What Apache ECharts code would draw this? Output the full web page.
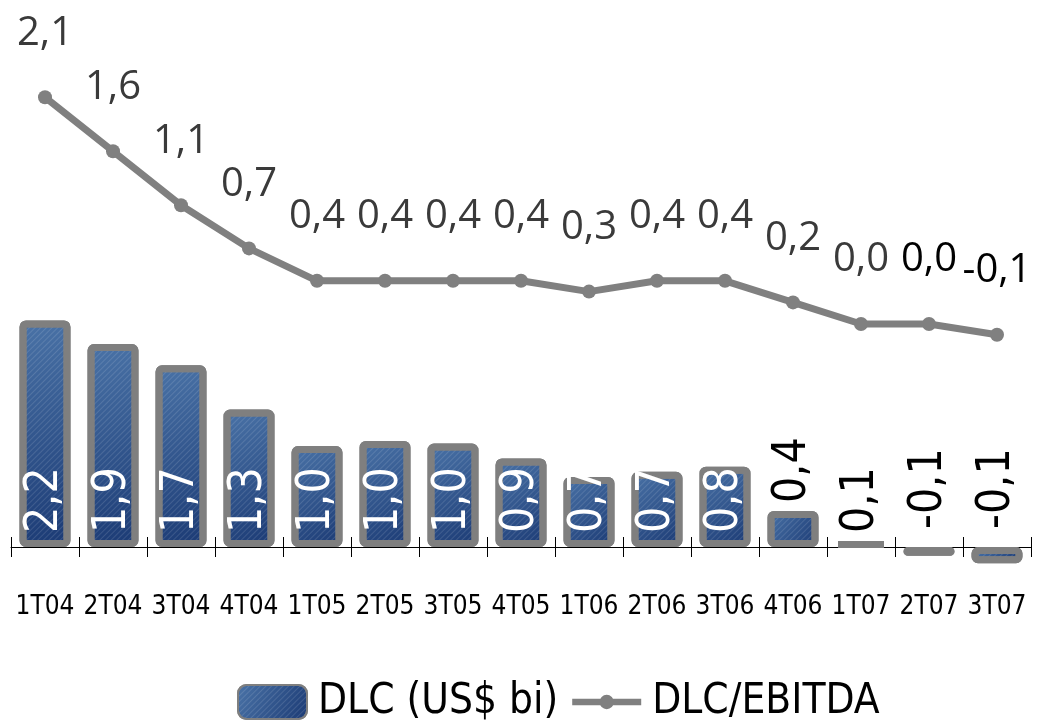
<!DOCTYPE html>
<html><head><meta charset="utf-8">
<script src="https://cdn.jsdelivr.net/npm/echarts@6/dist/echarts.min.js"></script>
<style>html,body{margin:0;padding:0;background:#fff}#c{width:1041px;height:728px}</style>
</head><body><div id="c"></div>
<script>
var categories = ['1T04','2T04','3T04','4T04','1T05','2T05','3T05','4T05','1T06','2T06','3T06','4T06','1T07','2T07','3T07'];
var dlcValues = [2.2, 1.97, 1.765, 1.335, 0.98, 1.03, 1.005, 0.86, 0.68, 0.73, 0.78, 0.35, 0.05, -0.085, -0.157];
var dlcLabels = ['2,2','1,9','1,7','1,3','1,0','1,0','1,0','0,9','0,7','0,7','0,8','0,4','0,1','-0,1','-0,1'];
var ratioValues = [2.1, 1.6, 1.1, 0.7, 0.4, 0.4, 0.4, 0.4, 0.3, 0.4, 0.4, 0.2, 0.0, 0.0, -0.1];
var ratioLabels = ['2,1','1,6','1,1','0,7','0,4','0,4','0,4','0,4','0,3','0,4','0,4','0,2','0,0','0,0','-0,1'];

var NARROW = '"Liberation Sans Narrow","DejaVu Sans Condensed",sans-serif';
var barFill = new echarts.graphic.LinearGradient(0,0,1,1,[{offset:0,color:'#4a73a7'},{offset:1,color:'#1b3a74'}]);

var barData = dlcValues.map(function(v,i){
  var d = {value:v};
  if (i >= 11) {
    d.label = {position:'top', color:'#000', distance: v < 0 ? 18 : 8};
  }
  return d;
});
var lineData = ratioValues.map(function(v,i){
  var d = {value:v};
  if (i >= 13) d.label = {color:'#000'};
  return d;
});

var lineIcon = 'path://M0,4 L72,4 L72,11 L0,11 Z M28.5,7.5 A7.5,7.5 0 1 1 43.5,7.5 A7.5,7.5 0 1 1 28.5,7.5 Z';

var chart = echarts.init(document.getElementById('c'));
chart.setOption({
  animation:false,
  backgroundColor:'#fff',
  grid:[{left:11,right:10,top:20,bottom:181,containLabel:false},
        {left:11,right:10,top:20,bottom:181,containLabel:false}],
  legend:{
    left:232, top:676, itemWidth:69, itemHeight:34, itemGap:14,
    textStyle:{fontFamily:NARROW, fontSize:42, color:'#000', padding:[0,0,0,6]},
    data:[{name:'DLC (US$ bi)'},{name:'DLC/EBITDA', icon:lineIcon, itemStyle:{color:'#808080', borderWidth:0}}]
  },
  xAxis:[{
    type:'category', data:categories, boundaryGap:true, gridIndex:0, position:'bottom',
    axisLine:{onZero:false, lineStyle:{color:'#000',width:1}},
    axisTick:{show:true,length:10,lineStyle:{color:'#000'}},
    axisLabel:{interval:0, margin:47, fontFamily:NARROW, fontSize:26, color:'#000'}
  },{
    type:'category', data:categories, boundaryGap:true, gridIndex:1, position:'bottom',
    axisLine:{show:false, onZero:false},
    axisTick:{show:true,inside:true,length:10,lineStyle:{color:'#000'}},
    axisLabel:{show:false}
  }],
  yAxis:[{
    type:'value', gridIndex:0, min:0, max:5.117, show:false, splitLine:{show:false}
  },{
    type:'value', gridIndex:0, min:-2.0648, max:2.8148, show:false, splitLine:{show:false}
  },{
    type:'value', gridIndex:1, min:0, max:1, show:false, splitLine:{show:false}
  }],
  series:[{
    name:'DLC (US$ bi)', type:'bar', xAxisIndex:0, yAxisIndex:0, barWidth:51, clip:false,
    itemStyle:{color:barFill, borderColor:'#7f7f7f', borderWidth:7, borderRadius:3,
      decal:{symbol:'rect', symbolSize:1, dashArrayX:[1,0], dashArrayY:[1,3], rotation:-Math.PI/4, color:'rgba(255,255,255,0.12)'}},
    label:{show:true, position:'insideBottom', rotate:90, align:'left', verticalAlign:'middle', distance:14,
      fontFamily:NARROW, fontSize:46, color:'#fff',
      formatter:function(p){return dlcLabels[p.dataIndex];}},
    data:barData, z:2
  },{
    name:'DLC/EBITDA', type:'line', xAxisIndex:0, yAxisIndex:1, clip:false,
    symbol:'circle', symbolSize:14,
    lineStyle:{color:'#808080', width:7},
    itemStyle:{color:'#808080'},
    label:{show:true, position:'top', distance:37, fontFamily:'"Open Sans",sans-serif', fontSize:40, color:'#3a3a3a',
      formatter:function(p){return ratioLabels[p.dataIndex];}},
    data:lineData, z:3
  }]
});
</script></body></html>
